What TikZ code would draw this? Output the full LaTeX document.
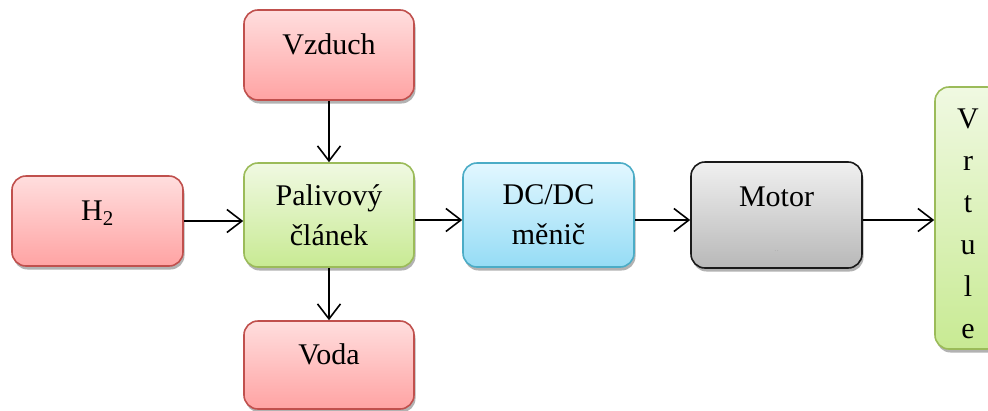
\documentclass[tikz,border=0pt]{standalone}
\usepackage{fontspec}
\setmainfont{Liberation Serif}
\usetikzlibrary{arrows.meta,shadows}
\definecolor{redTop}{HTML}{FFDEDE}
\definecolor{redBot}{HTML}{FFA3A3}
\definecolor{redLine}{HTML}{C0504D}
\definecolor{grnTop}{HTML}{F0F9E2}
\definecolor{grnBot}{HTML}{C8EA93}
\definecolor{grnLine}{HTML}{9BBB59}
\definecolor{bluTop}{HTML}{E2F7FF}
\definecolor{bluBot}{HTML}{95DCF5}
\definecolor{bluLine}{HTML}{4BACC6}
\definecolor{gryTop}{HTML}{F0F0F0}
\definecolor{gryBot}{HTML}{B8B8B8}
\definecolor{gryLine}{HTML}{1A1A1A}
\begin{document}
\begin{tikzpicture}[x=1pt,y=-1pt,
  box/.style={rounded corners=14pt, line width=1.6pt, inner sep=0pt,
    font=\fontsize{30}{40}\selectfont, align=center,
    drop shadow={shadow xshift=1.5pt, shadow yshift=-3.5pt, opacity=0.3, fill=black}},
  oneline/.style={text height=20pt, text depth=22pt},
  redbox/.style={box, draw=redLine, top color=redTop, bottom color=redBot},
  grnbox/.style={box, draw=grnLine, top color=grnTop, bottom color=grnBot},
  blubox/.style={box, draw=bluLine, top color=bluTop, bottom color=bluBot},
  grybox/.style={box, draw=gryLine, top color=gryTop, bottom color=gryBot},
  conn/.style={line width=1.6pt, -{Straight Barb[length=15pt,width=23pt,line width=1.6pt]}}
]
\clip (0,0) rectangle (988,410);
\fill[white] (0,0) rectangle (988,410);
\node[redbox, oneline, minimum width=171pt, minimum height=90pt] (h2) at (97.5,221) {H\textsubscript{2}};
\node[redbox, oneline, minimum width=170pt, minimum height=90pt] (vz) at (329,55) {Vzduch};
\node[grnbox, minimum width=170pt, minimum height=104pt] (pc) at (329,215) {Palivový\\článek};
\node[redbox, oneline, minimum width=170pt, minimum height=88pt] (vo) at (329,365) {Voda};
\node[blubox, minimum width=171pt, minimum height=104pt] (dc) at (548.5,215) {DC/DC\\měnič};
\node[grybox, minimum width=171pt, minimum height=106pt] (mo) at (776.5,215) {\rule{0pt}{29pt}Motor\\[5pt]{\fontsize{6}{6}\selectfont\color{black!40}.\,.}};
\node[grnbox, minimum width=66pt, minimum height=262pt, font=\fontsize{30}{42}\selectfont] (vr) at (968,218) {\rule{0pt}{32pt}V\\r\\t\\u\\l\\e};
\draw[conn] (h2.east) -- (h2.east -| pc.west);
\draw[conn] (vz.south) -- (pc.north);
\draw[conn] (pc.south) -- (vo.north);
\draw[conn] ([yshift=-5pt]pc.east) -- ([yshift=-5pt]dc.west);
\draw[conn] ([yshift=-5pt]dc.east) -- ([yshift=-5pt]mo.west);
\draw[conn] ([yshift=-5pt]mo.east) -- ([yshift=-5pt]mo.east -| vr.west);
\end{tikzpicture}
\end{document}
